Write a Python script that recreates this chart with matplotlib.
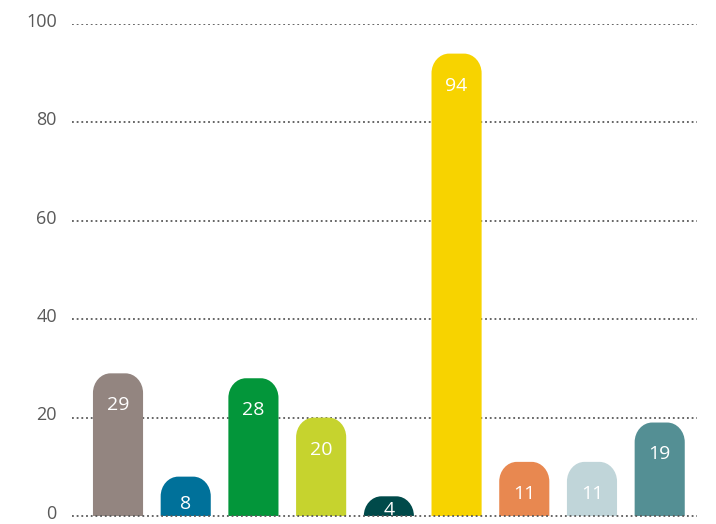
import matplotlib.pyplot as plt
import matplotlib as mpl
from matplotlib.patches import PathPatch
from matplotlib.path import Path
from matplotlib.transforms import ScaledTranslation

mpl.rcParams['font.family'] = ['Open Sans', 'DejaVu Sans']

values = [29, 8, 28, 20, 4, 94, 11, 11, 19]
colors = ['#938580', '#00719a', '#03963a', '#c6d32e', '#004a4a',
          '#f7d300', '#e88850', '#c0d5d9', '#548f94']
yticks = [0, 20, 40, 60, 80, 100]

grey = '#595959'
bar_w = 0.74
rx = 0.26          # corner radius, x data units
ry = 4.0           # corner radius, y data units
k = 0.5523         # bezier circle constant


def rounded_bar(xc, h):
    x0, x1 = xc - bar_w / 2, xc + bar_w / 2
    r_y = min(ry, h)
    verts = [(x0, 0), (x0, h - r_y),
             (x0, h - r_y + k * r_y), (x0 + rx - k * rx, h), (x0 + rx, h),
             (x1 - rx, h),
             (x1 - rx + k * rx, h), (x1, h - r_y + k * r_y), (x1, h - r_y),
             (x1, 0), (x0, 0)]
    codes = [Path.MOVETO, Path.LINETO,
             Path.CURVE4, Path.CURVE4, Path.CURVE4,
             Path.LINETO,
             Path.CURVE4, Path.CURVE4, Path.CURVE4,
             Path.LINETO, Path.CLOSEPOLY]
    return Path(verts, codes)


fig = plt.figure(figsize=(7.16, 5.24), dpi=100)
ax = fig.add_axes([0.1006, 0.0153, 0.973 - 0.1006, 0.954 - 0.0153])

for i, (v, c) in enumerate(zip(values, colors)):
    ax.add_patch(PathPatch(rounded_bar(i, v), facecolor=c, edgecolor='none', zorder=2))
    ax.text(i, v - min(6.5, 0.7 * v), str(v), ha='center', va='center',
            color='white', fontsize=14, zorder=3, clip_on=True)

for t in yticks[1:]:
    ax.axhline(t, color=grey, linestyle=(0, (1, 1.6)), linewidth=1.3, zorder=0)
ax.axhline(0, color=grey, linestyle=(0, (1, 1.6)), linewidth=1.3, zorder=4,
           clip_on=False)

ax.set_xlim(-0.679, 8.546)
ax.set_ylim(0, 100)
ax.set_yticks(yticks)
ax.set_xticks([])
ax.tick_params(axis='y', length=0, pad=11, labelsize=13, labelcolor=grey)
# labels sit a little above their gridlines
shift = ScaledTranslation(0, 3 / 72, fig.dpi_scale_trans)
for lab in ax.get_yticklabels():
    lab.set_transform(lab.get_transform() + shift)
for s in ax.spines.values():
    s.set_visible(False)

plt.savefig('out.png', dpi=100)
